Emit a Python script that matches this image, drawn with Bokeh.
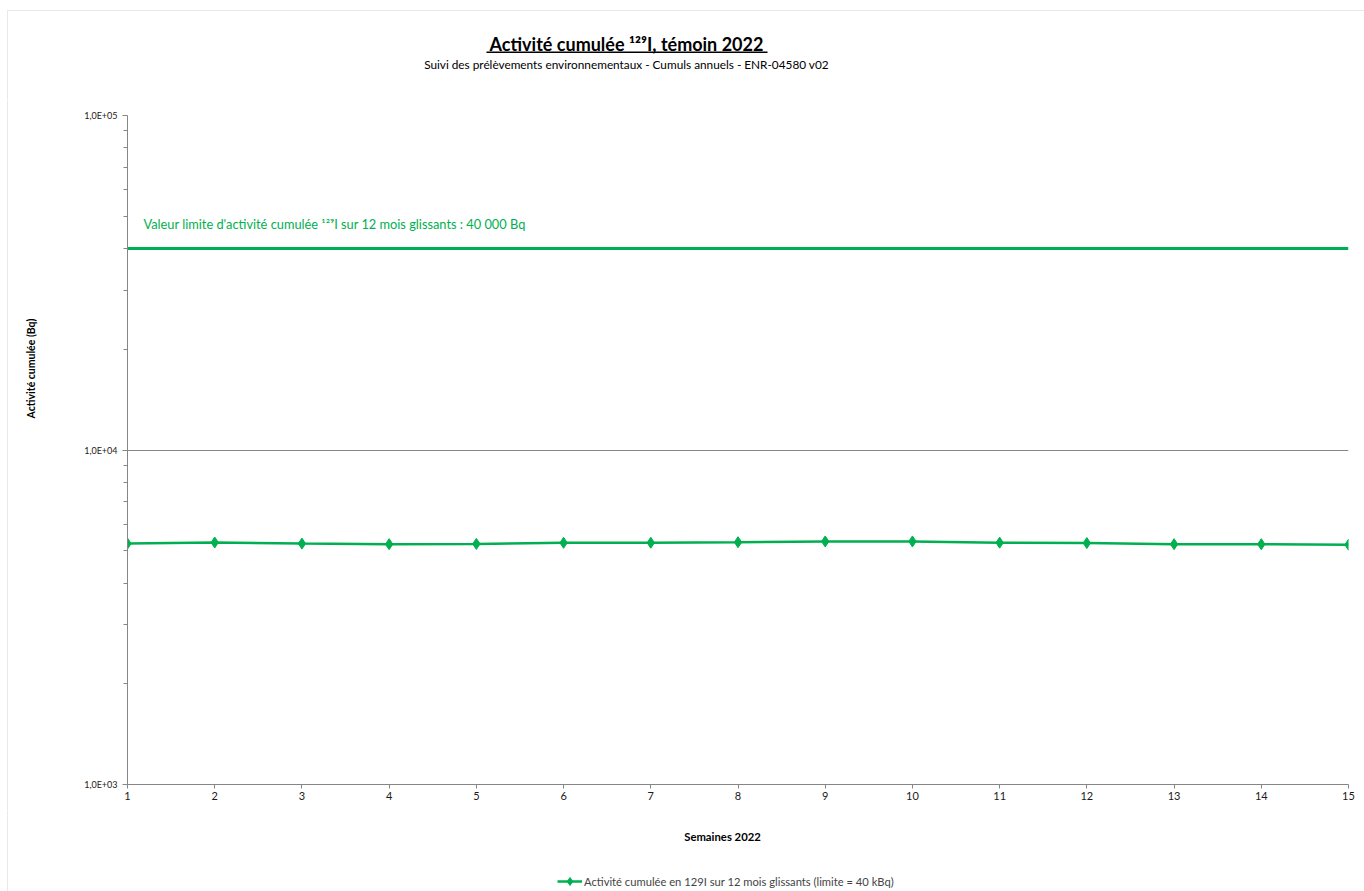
from bokeh.plotting import figure
from bokeh.layouts import column, row
from bokeh.models import (FixedTicker, Label, Legend, LegendItem, Range1d, BoxAnnotation)
from bokeh.embed import file_html
from bokeh.resources import INLINE

# ---- data ----
weeks = [1, 2, 3, 4, 5, 6, 7, 8, 9, 10, 11, 12, 13, 14, 15]
cumulative_activity = [5250, 5290, 5250, 5230, 5240, 5280, 5280, 5300, 5330, 5330,
                       5285, 5270, 5230, 5230, 5210]
limit_weeks = [1, 15]
limit_values = [40000, 40000]
y_major_ticks = [1000, 10000, 100000]
y_minor_ticks = [2000, 3000, 4000, 5000, 6000, 7000, 8000, 9000,
                 20000, 30000, 40000, 50000, 60000, 70000, 80000, 90000]
y_tick_labels = {1000: "1,0E+03", 10000: "1,0E+04", 100000: "1,0E+05"}

title_text = "Activité cumulée ¹²⁹I, témoin 2022"
subtitle_text = "Suivi des prélèvements environnementaux - Cumuls annuels - ENR-04580 v02"
limit_text = "Valeur limite d'activité cumulée ¹²⁹I sur 12 mois  glissants : 40 000 Bq"
x_label = "Semaines 2022"
y_label = "Activité cumulée (Bq)"
legend_label = "Activité cumulée en 129I sur 12 mois glissants (limite = 40 kBq)"

GREEN = "#00B050"
AXIS = "#868686"
BORDER = "#B4B4B4"
FONT = "Lato"

# page geometry
W, H = 1364, 891
FL, FR, FT, FB = 127, 1348, 115, 784     # plot frame
HEAD_H = 100                              # header strip height
LEFT_W = 60                               # strip holding the y label
MAIN_BOTTOM = 810                         # bottom of main figure
FOOT_H = H - MAIN_BOTTOM
BX, BY = 7, 10                            # outer chart border (left, top)


def no_frame_align(f):
    if "frame_align" in f.properties():
        f.frame_align = False


def blank(width, height, x0, x1, y_top, y_bottom):
    # y range runs from page-bottom value (start) to page-top value (end)
    f = figure(width=width, height=height, x_range=Range1d(x0, x1),
               y_range=Range1d(y_bottom, y_top), output_backend="svg",
               toolbar_location=None, x_axis_location=None, y_axis_location=None,
               min_border=0)
    no_frame_align(f)
    f.outline_line_color = None
    f.xgrid.visible = False
    f.ygrid.visible = False
    f.border_fill_color = "white"
    f.background_fill_color = "white"
    # outer chart border (only its left / top edges fall inside the page)
    f.add_layout(BoxAnnotation(left=BX, right=W + 50, top=BY, bottom=H + 50,
                               fill_alpha=0, line_color=BORDER, line_width=1))
    return f


def txt(fig, text, x, y, size, bold=False, color="#000000", align="center", angle=0.0):
    fig.add_layout(Label(x=x, y=y, text=text, text_font=FONT, text_font_size=size,
                         text_font_style="bold" if bold else "normal",
                         text_color=color, text_align=align, text_baseline="middle",
                         angle=angle))


# ---- header (page y 0..100)
head = blank(W, HEAD_H, 0, W, 0, HEAD_H)
txt(head, title_text, 626, 43, "18px", bold=True)
head.add_layout(BoxAnnotation(left=486, right=767, top=51, bottom=52.5,
                              fill_color="#000000", fill_alpha=1, line_color=None))
txt(head, subtitle_text, 626, 64, "11.8px")

# ---- left strip (page y 100..810)
left = blank(LEFT_W, MAIN_BOTTOM - HEAD_H, 0, LEFT_W, HEAD_H, MAIN_BOTTOM)
txt(left, y_label, 30, 368, "10.5px", bold=True, angle=1.5707963267948966)

# ---- main chart
p = figure(width=W - LEFT_W, height=MAIN_BOTTOM - HEAD_H,
           x_range=(1, 15), y_range=(1000, 100000), y_axis_type="log",
           output_backend="svg", toolbar_location=None,
           min_border_left=FL - LEFT_W, min_border_right=W - FR,
           min_border_top=FT - HEAD_H, min_border_bottom=MAIN_BOTTOM - FB)
no_frame_align(p)
p.outline_line_color = None
p.background_fill_color = "white"
p.border_fill_color = "white"

p.xaxis.ticker = FixedTicker(ticks=weeks)
p.xaxis.axis_line_color = AXIS
p.xaxis.major_tick_line_color = AXIS
p.xaxis.major_tick_out = 4
p.xaxis.major_tick_in = 0
p.xaxis.minor_tick_line_color = None
p.xaxis.major_label_text_font = FONT
p.xaxis.major_label_text_font_size = "11px"
p.xaxis.major_label_text_color = "#1a1a1a"
p.xaxis.major_label_standoff = 3
p.xgrid.grid_line_color = None

p.yaxis.ticker = FixedTicker(ticks=y_major_ticks, minor_ticks=y_minor_ticks)
p.yaxis.major_label_overrides = y_tick_labels
p.yaxis.axis_line_color = AXIS
p.yaxis.major_tick_line_color = AXIS
p.yaxis.minor_tick_line_color = AXIS
p.yaxis.major_tick_out = 5
p.yaxis.major_tick_in = 0
p.yaxis.minor_tick_out = 4
p.yaxis.minor_tick_in = 0
p.yaxis.major_label_text_font = FONT
p.yaxis.major_label_text_font_size = "9px"
p.yaxis.major_label_text_color = "#1a1a1a"
p.yaxis.major_label_standoff = 5
p.ygrid.grid_line_color = AXIS
p.ygrid.grid_line_width = 1
p.ygrid.minor_grid_line_color = None

p.line(limit_weeks, limit_values, line_color=GREEN, line_width=3)
p.line(weeks, cumulative_activity, line_color=GREEN, line_width=2.5)
p.scatter(weeks, cumulative_activity, marker="diamond", size=11,
          fill_color=GREEN, line_color=GREEN)

p.add_layout(Label(x=143 - FL, y=FB - 223, x_units="screen", y_units="screen",
                   text=limit_text, text_font=FONT, text_font_size="12.8px",
                   text_color=GREEN, text_align="left", text_baseline="middle"))

# ---- footer (page y 810..891)
foot = blank(W, FOOT_H, 0, W, MAIN_BOTTOM, H)
txt(foot, x_label, 722, 836, "11.3px", bold=True)
# legend proxies: the same series, which falls outside this strip's range
leg_line = foot.line(x=weeks, y=cumulative_activity, line_color=GREEN, line_width=2.5)
leg_mark = foot.scatter(x=weeks, y=cumulative_activity, marker="diamond", size=9,
                        fill_color=GREEN, line_color=GREEN)
legend = Legend(items=[LegendItem(label=legend_label, renderers=[leg_line, leg_mark])],
                location=(557, 0), orientation="horizontal",
                padding=0, margin=0, glyph_width=25, glyph_height=20, label_standoff=2,
                label_text_font=FONT, label_text_font_size="11.2px",
                background_fill_alpha=0, border_line_color=None)
foot.add_layout(legend)

layout = column(head, row(left, p), foot)
open("out.html", "w").write(file_html(layout, INLINE))
